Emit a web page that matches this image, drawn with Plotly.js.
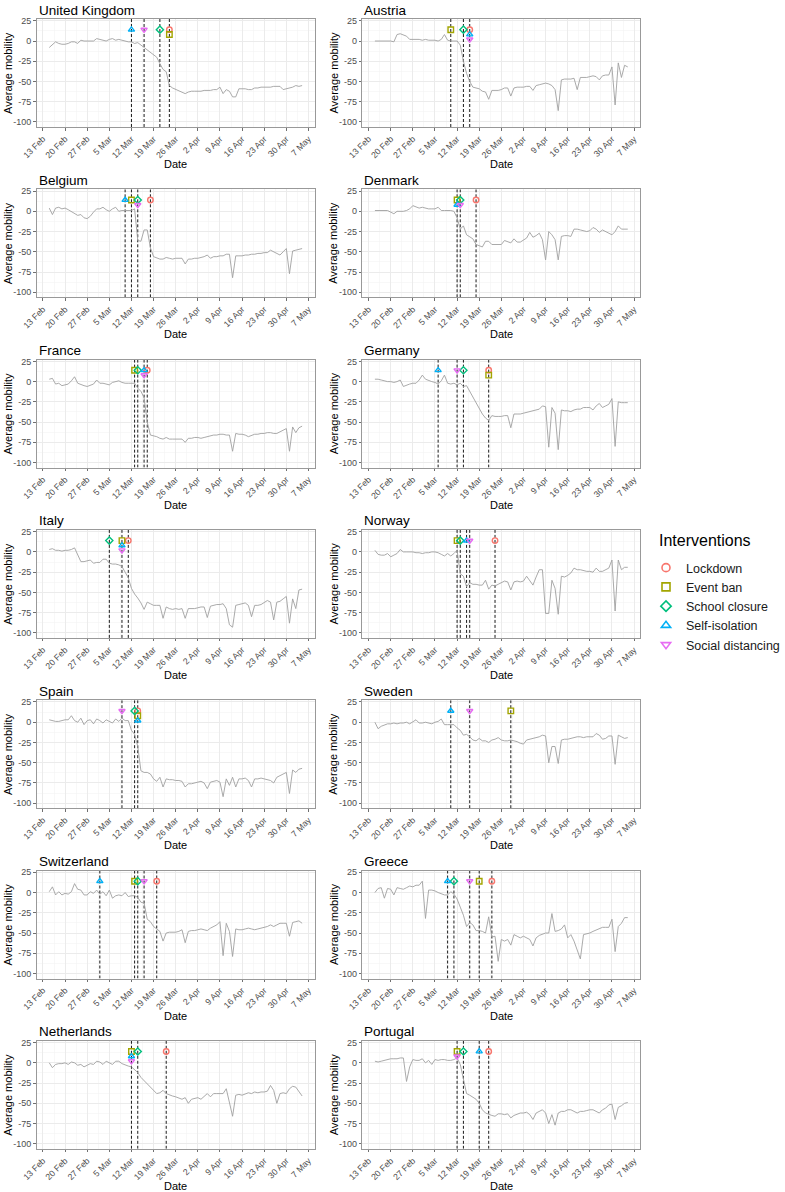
<!DOCTYPE html>
<html>
<head>
<meta charset="utf-8">
<script src="https://cdn.plot.ly/plotly-3.0.1.min.js"></script>
<style>html,body{margin:0;padding:0;background:#fff;}#chart{width:785px;height:1192px;}</style>
</head>
<body>
<div id="chart"></div>
<script>
// ---------- DATA ----------
const startDate = '2020-02-15';
const nDays = 81;
const countries = ['United Kingdom','Austria','Belgium','Denmark','France','Germany','Italy','Norway','Spain','Sweden','Switzerland','Greece','Netherlands','Portugal'];

const mobUK = [-8,-5,-1,-3,-4,-4,-3,-1,-1,-3,1,0,0,0,0,3,2,1,0,2,3,1,2,1,0,-1,-1,-3,-2,-5,-7,-10,-13,-17,-20,-28,-35,-38,-55,-58,-60,-61,-63,-65,-63,-62,-62,-62,-62,-61,-61,-61,-60,-60,-57,-65,-60,-62,-69,-69,-59,-59,-59,-60,-60,-58,-58,-57,-57,-57,-57,-56,-56,-56,-60,-59,-58,-57,-55,-56,-55];
const mobAT = [0,0,0,0,0,0,-1,8,9,7,6,2,2,2,2,1,2,1,1,1,0,2,8,1,0,0,0,-5,-25,-40,-50,-57,-58,-59,-62,-63,-72,-61,-61,-61,-60,-58,-58,-68,-58,-57,-57,-57,-56,-56,-61,-55,-54,-53,-52,-53,-55,-60,-86,-48,-47,-47,-47,-46,-60,-45,-45,-45,-44,-43,-44,-48,-43,-42,-42,-32,-79,-27,-45,-30,-32];
const mobBE = [4,-4,4,5,3,4,2,0,-2,-5,-4,-8,-9,-6,-1,3,3,5,2,0,3,5,0,1,1,1,1,3,-36,-37,-23,-23,-45,-56,-58,-59,-59,-57,-58,-59,-58,-58,-58,-65,-59,-59,-58,-58,-57,-56,-54,-58,-56,-56,-55,-55,-53,-53,-82,-55,-55,-55,-54,-54,-53,-53,-52,-52,-51,-51,-48,-50,-51,-54,-50,-46,-77,-49,-48,-47,-46];
const mobDK = [1,1,1,1,1,-1,-3,0,0,0,1,3,7,5,4,5,4,3,3,3,5,1,1,1,1,0,-8,-22,-18,-29,-31,-34,-41,-43,-44,-37,-37,-41,-41,-41,-41,-36,-38,-39,-34,-38,-38,-36,-33,-26,-32,-30,-27,-35,-60,-25,-29,-35,-60,-31,-30,-30,-31,-22,-22,-23,-24,-25,-24,-20,-22,-26,-23,-25,-27,-29,-25,-18,-22,-22,-22];
const mobFR = [3,4,-3,-2,-5,-4,-3,1,6,-2,-4,-5,-6,-4,-3,2,-2,-2,-3,-4,-1,0,1,-1,-2,-2,-2,-2,-8,-12,-20,-50,-66,-67,-68,-70,-71,-69,-71,-71,-71,-71,-71,-75,-70,-70,-69,-69,-70,-69,-68,-67,-66,-66,-65,-65,-66,-66,-86,-64,-65,-65,-66,-68,-66,-65,-65,-64,-64,-63,-63,-64,-64,-62,-61,-58,-86,-56,-63,-57,-55];
const mobDE = [3,3,2,1,0,0,-1,0,2,-6,-4,-3,-2,-2,2,8,3,1,0,-1,-3,1,8,-2,-3,-2,-4,-2,-6,-5,-12,-20,-27,-34,-40,-45,-48,-42,-43,-43,-43,-42,-42,-57,-40,-40,-40,-39,-38,-37,-36,-35,-34,-30,-31,-81,-32,-39,-84,-35,-36,-36,-37,-35,-34,-34,-32,-32,-32,-35,-30,-27,-32,-30,-28,-21,-80,-25,-26,-26,-26];
const mobIT = [3,4,2,2,1,2,2,3,5,-3,-12,-12,-11,-10,-14,-13,-13,-9,-9,-14,-15,-15,-16,-18,-25,-32,-45,-52,-57,-63,-71,-62,-64,-66,-66,-66,-82,-68,-70,-71,-70,-71,-70,-82,-70,-70,-70,-69,-68,-68,-81,-67,-66,-65,-65,-64,-70,-90,-93,-66,-65,-64,-63,-66,-80,-66,-66,-65,-63,-60,-62,-84,-62,-61,-58,-55,-88,-58,-70,-47,-46];
const mobNO = [2,-3,-4,-4,-2,-6,-4,-2,3,0,0,0,0,-1,-1,-2,-1,-1,0,0,-1,-3,-5,-2,-5,-2,2,-27,-30,-43,-38,-40,-40,-41,-41,-35,-46,-41,-42,-40,-38,-36,-37,-47,-37,-36,-37,-36,-30,-35,-41,-31,-22,-22,-76,-76,-35,-45,-77,-30,-31,-29,-26,-20,-22,-22,-23,-24,-24,-25,-20,-24,-24,-22,-20,-10,-73,-10,-22,-19,-19];
const mobES = [3,2,1,1,2,3,3,8,2,0,5,-3,2,3,-2,4,2,-1,3,1,-1,4,1,5,2,2,-10,-15,-30,-60,-62,-62,-64,-70,-73,-68,-80,-70,-71,-71,-72,-72,-73,-80,-76,-76,-75,-74,-73,-75,-82,-74,-73,-72,-74,-92,-70,-78,-68,-80,-70,-70,-69,-72,-80,-70,-70,-69,-70,-71,-72,-75,-68,-66,-64,-62,-88,-59,-62,-58,-57];
const mobSE = [0,-8,-5,-3,-2,-2,-1,-2,-1,-1,0,-2,0,3,-1,-1,0,-1,-2,0,1,4,-3,-3,-3,-3,-7,-10,-16,-15,-18,-22,-23,-20,-23,-23,-25,-22,-21,-19,-22,-23,-23,-22,-23,-24,-26,-27,-22,-21,-20,-19,-18,-16,-17,-50,-30,-30,-51,-22,-21,-21,-20,-19,-18,-18,-19,-18,-18,-18,-14,-16,-21,-20,-17,-17,-52,-16,-18,-20,-19];
const mobCH = [1,7,-3,1,-3,-1,-2,1,11,4,3,-3,-3,1,-1,3,-2,1,-4,3,-7,-4,-3,-4,0,-5,-4,-4,-6,-12,-13,-33,-36,-42,-45,-48,-60,-50,-49,-49,-49,-48,-46,-62,-48,-47,-47,-46,-45,-46,-47,-44,-42,-40,-36,-78,-38,-48,-79,-45,-46,-46,-45,-44,-45,-46,-45,-44,-43,-42,-40,-42,-40,-38,-38,-38,-54,-37,-36,-35,-38];
const mobGR = [0,5,6,-7,5,4,-3,6,5,4,6,8,7,9,9,14,-32,3,3,2,0,-2,-3,-3,1,-2,-8,-18,-28,-42,-37,-40,-47,-47,-48,-50,-30,-55,-54,-85,-58,-60,-58,-65,-52,-54,-56,-54,-56,-58,-66,-56,-53,-51,-50,-50,-26,-48,-47,-45,-40,-56,-52,-60,-70,-82,-52,-51,-50,-48,-46,-44,-43,-43,-43,-33,-73,-42,-38,-31,-31];
const mobNL = [0,-6,-2,-1,-1,0,-2,1,0,-3,-2,-5,-3,-1,-2,2,1,-2,2,0,-2,2,2,-1,-3,-4,-5,-8,-12,-18,-22,-25,-30,-33,-38,-37,-34,-38,-40,-41,-42,-44,-45,-43,-50,-45,-44,-43,-45,-42,-38,-42,-38,-38,-38,-38,-32,-50,-66,-40,-39,-40,-38,-37,-38,-36,-37,-36,-36,-35,-28,-34,-50,-38,-37,-38,-32,-29,-30,-35,-41];
const mobPT = [2,1,2,3,4,5,5,5,6,6,-23,-5,4,3,3,5,0,3,-2,4,3,4,4,3,3,4,6,-2,-20,-38,-40,-42,-45,-50,-58,-62,-64,-65,-66,-63,-63,-64,-63,-68,-65,-63,-62,-62,-61,-64,-70,-62,-60,-58,-62,-75,-64,-77,-62,-60,-60,-58,-58,-60,-62,-60,-60,-59,-58,-58,-60,-62,-58,-56,-52,-51,-70,-55,-53,-50,-49];

const mobility = [mobUK, mobAT, mobBE, mobDK, mobFR, mobDE, mobIT, mobNO, mobES, mobSE, mobCH, mobGR, mobNL, mobPT];

// intervention types (legend order)
const types = ['Lockdown','Event ban','School closure','Self-isolation','Social distancing'];
// dates per country, in the order of `types` (null = none)
const ivUK = ['2020-03-24','2020-03-24','2020-03-21','2020-03-12','2020-03-16'];
const ivAT = ['2020-03-16','2020-03-10','2020-03-14','2020-03-16','2020-03-16'];
const ivBE = ['2020-03-18','2020-03-12','2020-03-14','2020-03-10','2020-03-14'];
const ivDK = ['2020-03-18','2020-03-12','2020-03-13','2020-03-12','2020-03-13'];
const ivFR = ['2020-03-17','2020-03-13','2020-03-14','2020-03-16','2020-03-16'];
const ivDE = ['2020-03-22','2020-03-22','2020-03-14','2020-03-06','2020-03-12'];
const ivIT = ['2020-03-11','2020-03-09','2020-03-05','2020-03-09','2020-03-09'];
const ivNO = ['2020-03-24','2020-03-12','2020-03-13','2020-03-15','2020-03-16'];
const ivES = ['2020-03-14','2020-03-14','2020-03-13','2020-03-14','2020-03-09'];
const ivSE = [null,'2020-03-29',null,'2020-03-10','2020-03-16'];
const ivCH = ['2020-03-20','2020-03-13','2020-03-14','2020-03-02','2020-03-16'];
const ivGR = ['2020-03-23','2020-03-19','2020-03-11','2020-03-09','2020-03-16'];
const ivNL = ['2020-03-23','2020-03-12','2020-03-14','2020-03-12','2020-03-12'];
const ivPT = ['2020-03-22','2020-03-12','2020-03-14','2020-03-19','2020-03-12'];
const interventions = [ivUK, ivAT, ivBE, ivDK, ivFR, ivDE, ivIT, ivNO, ivES, ivSE, ivCH, ivGR, ivNL, ivPT];

const stackY = [14, 8, 2];   // marker heights when several interventions share a date
const yTicks = [-100, -75, -50, -25, 0, 25];
const yRange = [-106.2, 27.2];

// ---------- STYLE / LAYOUT ----------
const W = 785, H = 1192;
const colors = ['#F8766D','#A3A500','#00BF7D','#00B0F6','#E76BF3'];
const symbols = ['circle-open','square-open','diamond-open','triangle-up-open','triangle-down-open'];
const FONT = 'Liberation Sans, Arial, Helvetica, sans-serif';
const colLeft = [37, 366], PW = 281, TOP0 = 19, PITCH = 170.3, PH = 108;

const dates = [];
for (let i = 0; i < nDays; i++) {
  const d = new Date(Date.parse(startDate + 'T00:00:00Z') + i * 86400000);
  dates.push(d.toISOString().slice(0, 10));
}

const traces = [];
const annotations = [];
const layout = {
  width: W, height: H,
  margin: {l: 0, r: 0, t: 0, b: 0},
  paper_bgcolor: '#fff', plot_bgcolor: '#fff',
  font: {family: FONT, color: '#000'},
  showlegend: true,
  legend: {
    x: 653 / W, y: 1 - 553 / H, xanchor: 'left', yanchor: 'top',
    font: {size: 12.5, color: '#1a1a1a', family: FONT},
    bgcolor: 'rgba(0,0,0,0)', tracegroupgap: 0, traceorder: 'normal'
  }
};

countries.forEach((name, i) => {
  const col = i % 2, row = Math.floor(i / 2);
  const k = i + 1;
  const xa = 'xaxis' + (k === 1 ? '' : k), ya = 'yaxis' + (k === 1 ? '' : k);
  const xr = 'x' + (k === 1 ? '' : k), yr = 'y' + (k === 1 ? '' : k);
  const left = colLeft[col], top = TOP0 + PITCH * row;
  layout[xa] = {
    domain: [left / W, (left + PW) / W], anchor: yr,
    type: 'date', range: ['2020-02-11', '2020-05-09'],
    tick0: '2020-02-13', dtick: 7 * 86400000, tickformat: '%-d %b', tickangle: -45,
    tickfont: {size: 8.7, color: '#4d4d4d', family: FONT},
    ticks: 'outside', ticklen: 2.5, tickcolor: '#333', tickwidth: 0.7,
    showgrid: true, gridcolor: '#ebebeb', gridwidth: 1,
    minor: {dtick: 3.5 * 86400000, tick0: '2020-02-13', showgrid: true, gridcolor: '#f3f3f3', gridwidth: 0.6, ticks: ''},
    showline: true, mirror: true, linecolor: '#999', linewidth: 1,
    zeroline: false, fixedrange: true
  };
  layout[ya] = {
    domain: [1 - (top + PH) / H, 1 - top / H], anchor: xr,
    range: yRange, tickvals: yTicks, ticktext: yTicks.map(String),
    tickfont: {size: 9, color: '#4d4d4d', family: FONT},
    ticks: 'outside', ticklen: 2.5, tickcolor: '#333', tickwidth: 0.7,
    showgrid: true, gridcolor: '#ebebeb', gridwidth: 1,
    minor: {dtick: 12.5, tick0: 0, showgrid: true, gridcolor: '#f3f3f3', gridwidth: 0.6, ticks: ''},
    showline: true, mirror: true, linecolor: '#999', linewidth: 1,
    zeroline: false, fixedrange: true
  };

  const iv = interventions[i];
  // dashed vertical lines (one per distinct intervention date), drawn from the data
  const uniq = [];
  iv.forEach(d => { if (d && uniq.indexOf(d) < 0) uniq.push(d); });
  uniq.forEach(d => {
    traces.push({
      type: 'scatter', mode: 'lines', x: [d, d], y: yRange, xaxis: xr, yaxis: yr,
      line: {color: '#1a1a1a', width: 1, dash: '3px,2px'}, showlegend: false, hoverinfo: 'skip'
    });
  });

  traces.push({
    type: 'scatter', mode: 'lines', x: dates, y: mobility[i], xaxis: xr, yaxis: yr,
    line: {color: '#a0a0a0', width: 0.9}, showlegend: false, hoverinfo: 'skip'
  });

  const used = {};
  iv.forEach((d, t) => {
    if (!d) return;
    if (used[d] === undefined) used[d] = 0;
    const lvl = used[d]++;
    traces.push({
      type: 'scatter', mode: 'markers', x: [d], y: [stackY[lvl]], xaxis: xr, yaxis: yr,
      marker: {symbol: symbols[t], color: colors[t], size: 5.5, line: {width: 1.4, color: colors[t]}},
      showlegend: false, hoverinfo: 'skip', cliponaxis: false
    });
  });

  annotations.push({text: name, xref: 'paper', yref: 'paper', x: left / W, y: 1 - (top - 9) / H,
    xanchor: 'left', yanchor: 'middle', showarrow: false, font: {size: 13.5, color: '#000', family: FONT}});
  annotations.push({text: 'Average mobility', xref: 'paper', yref: 'paper', x: (left - 29) / W, y: 1 - (top + PH / 2) / H,
    xanchor: 'center', yanchor: 'middle', textangle: -90, showarrow: false, font: {size: 11, color: '#000', family: FONT}});
  annotations.push({text: 'Date', xref: 'paper', yref: 'paper', x: (left + PW / 2) / W, y: 1 - (top + 145) / H,
    xanchor: 'center', yanchor: 'middle', showarrow: false, font: {size: 11, color: '#000', family: FONT}});
});

// legend-only traces
types.forEach((t, j) => {
  traces.push({
    type: 'scatter', mode: 'markers', x: [null], y: [null], name: t,
    marker: {symbol: symbols[j], color: colors[j], size: 8, line: {width: 1.6, color: colors[j]}},
    showlegend: true, hoverinfo: 'skip'
  });
});
annotations.push({text: 'Interventions', xref: 'paper', yref: 'paper', x: 664 / W, y: 1 - 540 / H,
  xanchor: 'left', yanchor: 'middle', showarrow: false, font: {size: 16, color: '#000', family: FONT}});

layout.annotations = annotations;

Plotly.newPlot('chart', traces, layout, {displayModeBar: false, staticPlot: true});
</script>
</body>
</html>
